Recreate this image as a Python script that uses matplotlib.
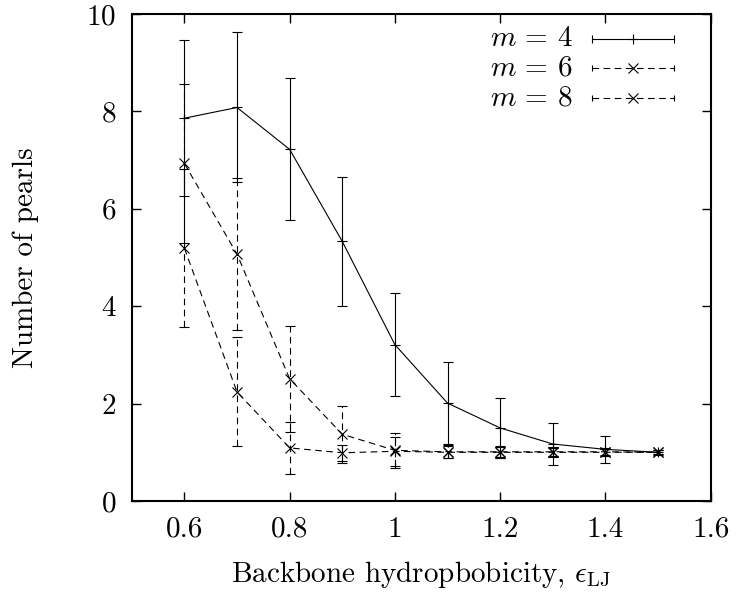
import numpy as np
import matplotlib
matplotlib.use('Agg')
import matplotlib.pyplot as plt

plt.rcParams['font.family'] = ['cmr10']
plt.rcParams['mathtext.fontset'] = 'cm'
plt.rcParams['axes.formatter.use_mathtext'] = True
plt.rcParams['font.size'] = 21

# Pearl counts vs backbone hydrophobicity for three side-chain lengths
eps = [0.6, 0.7, 0.8, 0.9, 1.0, 1.1, 1.2, 1.3, 1.4, 1.5]

m4_mean = [7.86, 8.08, 7.22, 5.33, 3.21, 2.01, 1.50, 1.17, 1.06, 1.00]
m4_err = [1.60, 1.54, 1.46, 1.32, 1.06, 0.84, 0.62, 0.43, 0.27, 0.05]

m6_mean = [6.93, 5.07, 2.51, 1.37, 1.04, 1.01, 1.01, 1.01, 1.01, 1.00]
m6_err = [1.63, 1.56, 1.09, 0.58, 0.36, 0.13, 0.12, 0.10, 0.08, 0.04]

m8_mean = [5.19, 2.24, 1.09, 0.99, 1.02, 1.00, 1.00, 1.00, 1.00, 1.00]
m8_err = [1.62, 1.12, 0.54, 0.16, 0.30, 0.12, 0.10, 0.08, 0.06, 0.04]

labels = [r'$m\,=\,4$', r'$m\,=\,6$', r'$m\,=\,8$']

fig = plt.figure(figsize=(7.36, 5.95), dpi=100)
ax = fig.add_axes([0.179, 0.158, 0.7866, 0.8185])

dash = (0, (6, 4))
lw = 0.8
msize = 7.5

def draw_series(x, y, err, marker, ls):
    line, caps, bars = ax.errorbar(x, y, yerr=err, color='black', lw=lw,
                                   elinewidth=lw, capsize=3.6, capthick=lw,
                                   marker=marker, markersize=msize, mew=lw,
                                   linestyle='-')
    if ls != '-':
        line.set_linestyle(ls)
        for b in bars:
            b.set_linestyle(ls)
    return line

draw_series(eps, m4_mean, m4_err, '+', '-')
draw_series(eps, m6_mean, m6_err, 'x', dash)
draw_series(eps, m8_mean, m8_err, 'x', dash)

# gnuplot-style key: horizontal sample with end caps
key_rows = [0.9487, 0.8881, 0.8275]
key_styles = [('+', '-', 6), ('x', dash, 4), ('x', dash, 4)]
for lab, yk, (mk, ls, cap) in zip(labels, key_rows, key_styles):
    ax.text(0.762, yk, lab, transform=ax.transAxes, ha='right', va='center')
    ax.plot([0.795, 0.937], [yk, yk], transform=ax.transAxes, color='black',
            lw=lw, linestyle=ls, clip_on=False)
    ax.plot([0.795, 0.937], [yk, yk], transform=ax.transAxes, color='black',
            lw=0, marker='|', markersize=cap, mew=lw, clip_on=False)
    ax.plot([0.866], [yk], transform=ax.transAxes, color='black', lw=0,
            marker=mk, markersize=msize, mew=lw, clip_on=False)

ax.set_xlim(0.5, 1.6)
ax.set_ylim(0, 10)
ax.set_xticks([0.6, 0.8, 1.0, 1.2, 1.4, 1.6])
ax.set_xticklabels(['0.6', '0.8', '1', '1.2', '1.4', '1.6'])
ax.set_yticks([0, 2, 4, 6, 8, 10])
ax.tick_params(direction='in', length=6.5, width=1.0, top=True, right=True,
               pad=11)
for s in ax.spines.values():
    s.set_linewidth(1.5)

ax.set_xlabel(r'Backbone hydropbobicity, $\epsilon_{\rm LJ}$', labelpad=12)
ax.set_ylabel('Number of pearls', labelpad=34)

fig.savefig('out.png', dpi=100)
